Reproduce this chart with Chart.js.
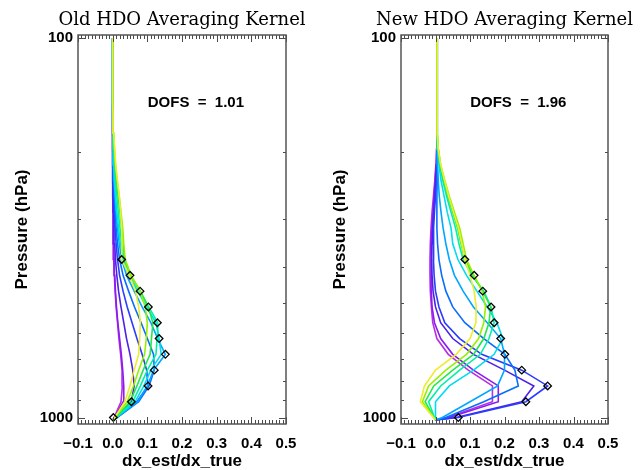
<!DOCTYPE html>
<html lang="en">
<head>
<meta charset="UTF-8">
<title>HDO Averaging Kernels</title>
<script src="https://cdn.jsdelivr.net/npm/chart.js"></script>
<style>
    body {
        margin: 0;
        background: #ffffff;
    }
    .wrap {
        position: relative;
        width: 642px;
        height: 470px;
    }
    .panel {
        position: absolute;
        top: 0;
        width: 321px;
        height: 470px;
    }
    #old-panel { left: 0; }
    #new-panel { left: 321px; }
</style>
</head>
<body>
<div class="wrap">
    <div class="panel" id="old-panel"><canvas id="old-chart" width="321" height="470"></canvas></div>
    <div class="panel" id="new-panel"><canvas id="new-chart" width="321" height="470"></canvas></div>
</div>
<script>
// pressure levels (hPa), surface first
const levels = [1015, 1000, 908.5, 825.4, 749.9, 681.3, 619.0, 562.3, 510.9, 464.2, 421.7, 383.1,
    348.1, 316.2, 287.3, 261.0, 237.1, 215.4, 195.7, 177.8, 161.6, 146.8, 133.4, 121.2, 110.1, 100];
// levels that carry a diagonal marker
const diagLevels = [1000, 908.5, 825.4, 749.9, 681.3, 619.0, 562.3, 510.9, 464.2, 421.7, 383.1];

// one colour per kernel row (surface row first)
const rowColors = ['#b82ee6', '#8a1cf0', '#4b22e8', '#2a3cff', '#0a6cff', '#00a6ff',
    '#00dcf0', '#00f0a8', '#22e848', '#98f000', '#ecec30'];

// old retrieval kernel rows, values on `levels`
const oldKernel = [
    [0, 0.004, 0.024, 0.028, 0.027, 0.023, 0.018, 0.014, 0.010, 0.007, 0.005, 0.003, 0.002, 0.001, 0.001, 0, 0, 0, 0, 0, 0, 0, 0, 0, 0, 0],
    [0, 0.006, 0.030, 0.032, 0.029, 0.025, 0.020, 0.015, 0.011, 0.008, 0.006, 0.004, 0.003, 0.002, 0.001, 0.001, 0, 0, 0, 0, 0, 0, 0, 0, 0, 0],
    [0, 0.010, 0.054, 0.062, 0.058, 0.050, 0.040, 0.032, 0.024, 0.017, 0.012, 0.008, 0.006, 0.004, 0.003, 0.002, 0.001, 0, 0, 0, 0, 0, 0, 0, 0, 0],
    [0, 0.012, 0.070, 0.102, 0.098, 0.085, 0.070, 0.056, 0.042, 0.030, 0.020, 0.014, 0.010, 0.007, 0.005, 0.003, 0.002, 0.001, 0, 0, 0, 0, 0, 0, 0, 0],
    [0, 0.013, 0.075, 0.105, 0.120, 0.118, 0.100, 0.082, 0.063, 0.046, 0.030, 0.020, 0.014, 0.010, 0.007, 0.005, 0.003, 0.002, 0.001, 0, 0, 0, 0, 0, 0, 0],
    [0, 0.012, 0.072, 0.100, 0.118, 0.152, 0.130, 0.110, 0.085, 0.062, 0.040, 0.026, 0.019, 0.014, 0.010, 0.007, 0.004, 0.002, 0.001, 0, 0, 0, 0, 0, 0, 0],
    [0, 0.010, 0.065, 0.090, 0.110, 0.140, 0.134, 0.125, 0.098, 0.072, 0.046, 0.030, 0.022, 0.017, 0.012, 0.008, 0.005, 0.003, 0.002, 0.001, 0, 0, 0, 0, 0, 0],
    [0, 0.009, 0.058, 0.080, 0.100, 0.125, 0.128, 0.130, 0.104, 0.078, 0.050, 0.033, 0.026, 0.021, 0.016, 0.012, 0.008, 0.005, 0.003, 0.001, 0, 0, 0, 0, 0, 0],
    [0, 0.008, 0.050, 0.070, 0.088, 0.108, 0.112, 0.116, 0.103, 0.080, 0.052, 0.035, 0.030, 0.026, 0.021, 0.016, 0.011, 0.007, 0.004, 0.002, 0.001, 0, 0, 0, 0, 0],
    [0, 0.007, 0.042, 0.060, 0.075, 0.092, 0.097, 0.100, 0.094, 0.079, 0.053, 0.036, 0.032, 0.029, 0.024, 0.019, 0.013, 0.008, 0.005, 0.003, 0.001, 0, 0, 0, 0, 0],
    [0, 0.006, 0.035, 0.050, 0.062, 0.075, 0.078, 0.080, 0.075, 0.066, 0.048, 0.026, 0.027, 0.026, 0.023, 0.019, 0.014, 0.009, 0.006, 0.003, 0.001, 0, 0, 0, 0, 0]
];
const oldDiag = [0.002, 0.054, 0.102, 0.120, 0.152, 0.134, 0.129, 0.103, 0.079, 0.050, 0.026];

// new retrieval kernel rows
const newKernel = [
    [0, 0.035, 0.165, 0.165, 0.095, 0.037, 0.004, -0.008, -0.012, -0.015, -0.016, -0.016, -0.015, -0.013, -0.010, -0.006, -0.002, 0.001, 0.003, 0.004, 0.005, 0.005, 0.005, 0.005, 0.005, 0.005],
    [0, 0.040, 0.182, 0.182, 0.110, 0.050, 0.015, -0.003, -0.010, -0.012, -0.013, -0.013, -0.012, -0.010, -0.007, -0.004, -0.001, 0.002, 0.004, 0.005, 0.005, 0.005, 0.005, 0.005, 0.005, 0.005],
    [0, 0.060, 0.250, 0.285, 0.200, 0.110, 0.050, 0.015, 0.000, -0.007, -0.010, -0.011, -0.010, -0.008, -0.005, -0.002, 0.001, 0.003, 0.004, 0.005, 0.005, 0.005, 0.005, 0.005, 0.005, 0.005],
    [0, 0.066, 0.262, 0.325, 0.250, 0.134, 0.070, 0.027, 0.010, 0.000, -0.004, -0.006, -0.006, -0.005, -0.003, 0.000, 0.003, 0.004, 0.005, 0.005, 0.005, 0.005, 0.005, 0.005, 0.005, 0.005],
    [0, 0.030, 0.140, 0.240, 0.230, 0.201, 0.140, 0.085, 0.050, 0.030, 0.018, 0.010, 0.006, 0.004, 0.004, 0.004, 0.005, 0.005, 0.005, 0.005, 0.005, 0.005, 0.005, 0.005, 0.005, 0.005],
    [0, 0.020, 0.100, 0.180, 0.200, 0.200, 0.189, 0.150, 0.110, 0.080, 0.055, 0.040, 0.030, 0.022, 0.016, 0.011, 0.008, 0.006, 0.005, 0.005, 0.005, 0.005, 0.005, 0.005, 0.005, 0.005],
    [0, 0.000, 0.000, 0.040, 0.110, 0.170, 0.195, 0.178, 0.150, 0.120, 0.090, 0.065, 0.050, 0.045, 0.034, 0.025, 0.016, 0.010, 0.006, 0.005, 0.005, 0.005, 0.005, 0.005, 0.005, 0.005],
    [0, -0.003, -0.020, 0.015, 0.070, 0.130, 0.155, 0.170, 0.161, 0.140, 0.105, 0.080, 0.068, 0.058, 0.045, 0.032, 0.021, 0.012, 0.007, 0.005, 0.005, 0.005, 0.005, 0.005, 0.005, 0.005],
    [0, -0.004, -0.030, -0.005, 0.050, 0.110, 0.140, 0.155, 0.160, 0.137, 0.110, 0.085, 0.074, 0.064, 0.050, 0.036, 0.024, 0.014, 0.008, 0.005, 0.005, 0.005, 0.005, 0.005, 0.005, 0.005],
    [0, -0.005, -0.038, -0.020, 0.030, 0.090, 0.125, 0.140, 0.145, 0.135, 0.112, 0.090, 0.080, 0.070, 0.055, 0.040, 0.027, 0.015, 0.008, 0.005, 0.005, 0.005, 0.005, 0.005, 0.005, 0.005],
    [0, -0.006, -0.044, -0.032, 0.000, 0.060, 0.100, 0.117, 0.118, 0.112, 0.100, 0.085, 0.076, 0.066, 0.052, 0.038, 0.026, 0.015, 0.008, 0.005, 0.005, 0.005, 0.005, 0.005, 0.005, 0.005]
];
const newDiag = [0.066, 0.262, 0.325, 0.250, 0.201, 0.189, 0.170, 0.161, 0.137, 0.112, 0.085];

// axes
const xTicks = [-0.1, 0.0, 0.1, 0.2, 0.3, 0.4, 0.5];
const xMinorTicks = Array.from({length: 61}, (_, i) => -0.1 + i * 0.01);
const yTicks = [100, 1000];
const yMinorTicks = [200, 300, 400, 500, 600, 700, 800, 900];

const sansBold = '"Liberation Sans", Arial, sans-serif';
const titleFamily = '"DejaVu Serif", "Liberation Serif", serif';

function fmtX(v) {
    const s = Math.abs(v).toFixed(1);
    return v < -1e-9 ? '\u2212' + s : s;
}

// the title is wider than the plot box; give it room so it is not squeezed
const titleRoom = {
    id: 'titleRoom',
    afterLayout(chart) {
        const t = chart.titleBlock;
        if (t) {
            t.left -= 60;
            t.right += 60;
        }
    }
};

// inward IDL-style ticks, box frame and DOFS note
const axisFrame = {
    id: 'axisFrame',
    afterDatasetsDraw(chart, args, opts) {
        const {ctx, chartArea: a} = chart;
        const xs = chart.scales.x, ys = chart.scales.y;
        ctx.save();
        ctx.strokeStyle = '#4a4a4a';
        ctx.lineWidth = 1;
        ctx.beginPath();
        xMinorTicks.forEach(v => {
            const px = Math.round(xs.getPixelForValue(v)) + 0.5;
            const major = xTicks.some(t => Math.abs(t - v) < 1e-6);
            const len = major ? 7 : 4;
            ctx.moveTo(px, a.bottom); ctx.lineTo(px, a.bottom - len);
            ctx.moveTo(px, a.top); ctx.lineTo(px, a.top + len);
        });
        yTicks.concat(yMinorTicks).forEach(p => {
            const py = Math.round(ys.getPixelForValue(p)) + 0.5;
            const len = yTicks.includes(p) ? 7 : 3;
            ctx.moveTo(a.left, py); ctx.lineTo(a.left + len, py);
            ctx.moveTo(a.right, py); ctx.lineTo(a.right - len, py);
        });
        ctx.stroke();
        ctx.lineWidth = 1.5;
        ctx.strokeStyle = '#555';
        ctx.strokeRect(a.left, a.top, a.right - a.left, a.bottom - a.top);

        ctx.fillStyle = '#000';
        ctx.font = 'bold 15px ' + sansBold;
        ctx.textAlign = 'center';
        ctx.textBaseline = 'middle';
        ctx.fillText(opts.text, xs.getPixelForValue(opts.at[0]), ys.getPixelForValue(opts.at[1]));
        ctx.restore();
    }
};

function makePanel(id, title, rows, diag, dofs, axisWidth, rightPad, yTitlePad) {
    const datasets = [{
        label: 'diagonal',
        data: diag.map((v, i) => ({x: v, y: diagLevels[i]})),
        showLine: false,
        pointStyle: 'rectRot',
        pointRadius: 3.8,
        pointBorderColor: '#000',
        pointBackgroundColor: 'rgba(0,0,0,0)',
        pointBorderWidth: 1.3
    }];
    // first dataset ends up on top, so yellow row goes in before purple
    for (let k = rows.length - 1; k >= 0; k--) {
        datasets.push({
            label: 'row ' + k,
            data: rows[k].map((v, i) => ({x: v, y: levels[i]})),
            borderColor: rowColors[k],
            borderWidth: 1.6,
            pointRadius: 0,
            fill: false,
            tension: 0
        });
    }

    return new Chart(document.getElementById(id), {
        type: 'line',
        data: {datasets},
        plugins: [titleRoom, axisFrame],
        options: {
            responsive: false,
            animation: false,
            devicePixelRatio: 1,
            layout: {padding: {left: 0, right: rightPad, top: 0, bottom: 0}},
            plugins: {
                legend: {display: false},
                tooltip: {enabled: false},
                title: {
                    display: true,
                    text: title,
                    fullSize: false,
                    color: '#000',
                    font: {family: titleFamily, size: 18, weight: 'normal', lineHeight: 1.2},
                    padding: {top: 10, bottom: 3.4}
                },
                axisFrame: {text: 'DOFS  =  ' + dofs, at: [0.24, 148]}
            },
            scales: {
                x: {
                    type: 'linear',
                    min: -0.1,
                    max: 0.5,
                    afterBuildTicks: s => { s.ticks = xTicks.map(v => ({value: v})); },
                    afterFit: s => { s.height = 46; },
                    grid: {display: false, drawTicks: false},
                    border: {display: false},
                    ticks: {
                        padding: 11,
                        color: '#000',
                        autoSkip: false,
                        maxRotation: 0,
                        font: {family: sansBold, size: 15, weight: 'bold'},
                        callback: v => fmtX(v)
                    },
                    title: {
                        display: true,
                        text: 'dx_est/dx_true',
                        color: '#000',
                        font: {family: sansBold, size: 17, weight: 'bold', lineHeight: 1},
                        padding: {top: 0, bottom: 0}
                    }
                },
                y: {
                    type: 'logarithmic',
                    reverse: true,
                    min: 98,
                    max: 1040,
                    afterBuildTicks: s => { s.ticks = yTicks.map(v => ({value: v})); },
                    afterFit: s => { s.width = axisWidth; },
                    grid: {display: false, drawTicks: false},
                    border: {display: false},
                    ticks: {
                        padding: 5,
                        color: '#000',
                        autoSkip: false,
                        font: {family: sansBold, size: 15, weight: 'bold'},
                        callback: v => String(v)
                    },
                    title: {
                        display: true,
                        text: 'Pressure (hPa)',
                        color: '#000',
                        font: {family: sansBold, size: 17, weight: 'bold', lineHeight: 1.2},
                        padding: {top: yTitlePad, bottom: 0}
                    }
                }
            }
        }
    });
}

function build() {
    makePanel('old-chart', 'Old HDO Averaging Kernel', oldKernel, oldDiag, '1.01', 78, 35, 12);
    makePanel('new-chart', 'New HDO Averaging Kernel', newKernel, newDiag, '1.96', 80, 34, 9);
}

// make sure the fonts are ready before the canvases draw text
Promise.all([
    document.fonts.load('18px "DejaVu Serif"'),
    document.fonts.load('bold 15px "Liberation Sans"')
]).then(build, build);
</script>
</body>
</html>
